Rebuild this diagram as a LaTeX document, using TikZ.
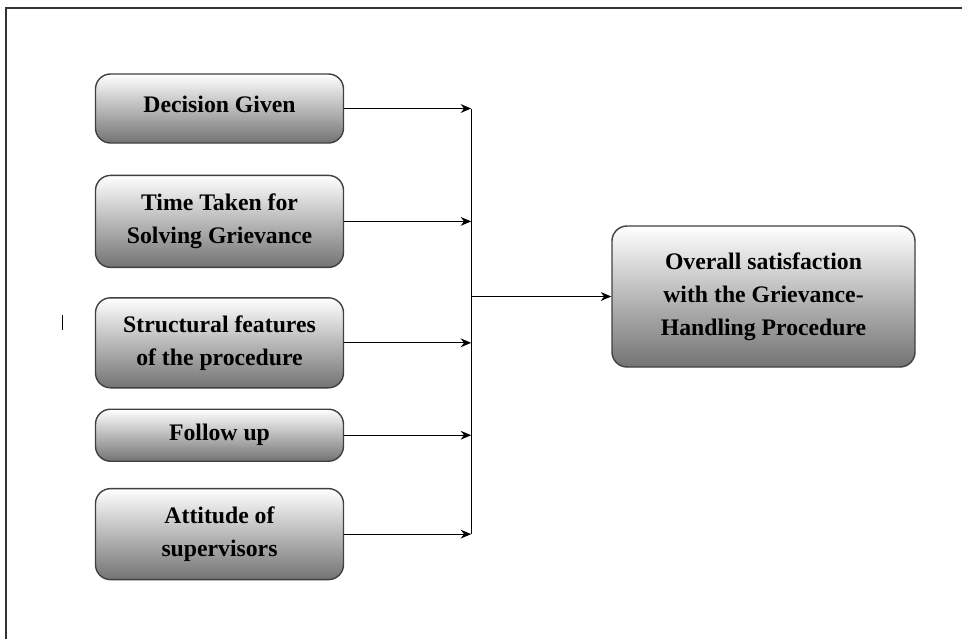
\documentclass[tikz,border=0pt]{standalone}
\usepackage{fontspec}
\setmainfont{Liberation Serif}
\usepackage{tikz}
\usetikzlibrary{positioning}
\usetikzlibrary{arrows.meta}
\tikzset{
	factor/.style={
			draw=black!75,
			line width=0.8pt,
			rounded corners=0.3cm,
			top color=white,
			bottom color=black!55,
			minimum width=4.96cm,
			align=center,
			font=\fontsize{13.5}{18.7}\selectfont\bfseries
		},
	outcome/.style={
			factor,
			minimum width=6.06cm,
			minimum height=2.82cm
		},
	link/.style={
			line width=0.7pt,
			-{Stealth[length=6pt,width=5pt]}
		}
}

\begin{document}
\begin{tikzpicture}
		\useasboundingbox (0,0) rectangle (19.24,-12.78);

		% Frame
		\draw[black!80, line width=0.9pt] (0.12,-12.78) -- (0.12,-0.16) -- (19.24,-0.16);
		\draw[line width=0.5pt] (1.24,-6.3) -- (1.24,-6.6);

		% Factors
		\node[factor,
			minimum height=1.38cm
		] (decision) at (4.39,-2.17) {\raisebox{5pt}{Decision Given}};

		\node[factor,
			minimum height=1.84cm,
			below=0.62cm of decision
		] (time) {Time Taken for\\Solving Grievance};

		\node[factor,
			minimum height=1.8cm,
			below=0.58cm of time
		] (struct) {Structural features\\of the procedure};

		\node[factor,
			minimum height=1.04cm,
			below=0.4cm of struct
		] (follow) {Follow up};

		\node[factor,
			minimum height=1.82cm,
			below=0.52cm of follow
		] (attitude) {Attitude of\\supervisors};

		% Outcome
		\node[outcome] (overall) at (15.27,-5.93)
		{Overall satisfaction\\with the Grievance-\\Handling Procedure};

		% Joint line
		\coordinate[right=2.54cm of decision] (jtop);
		\draw[line width=0.7pt] (jtop) -- (jtop |- attitude.east);

		% Arrows
		\foreach \src in {decision,time,struct,follow,attitude}
		\draw[link] (\src.east) -- (\src.east -| jtop);

		\draw[link] (overall.west -| jtop) -- (overall.west);
	\end{tikzpicture}
\end{document}
